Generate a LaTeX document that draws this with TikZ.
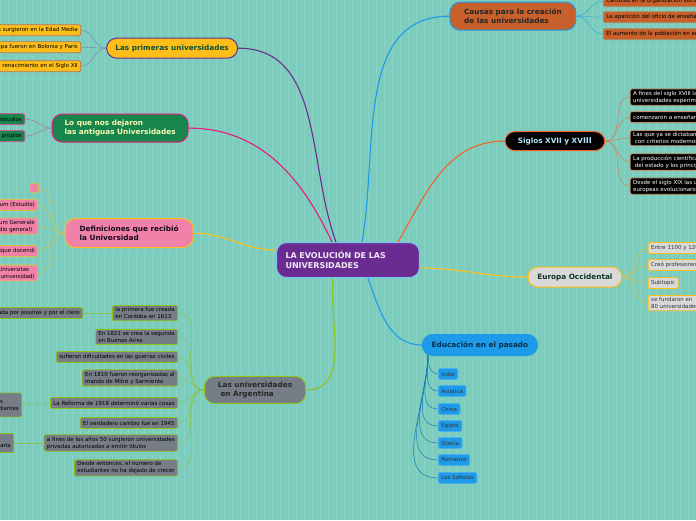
\documentclass[tikz,border=0pt]{standalone}
\usepackage{fontspec}
\setmainfont{DejaVu Sans}
\definecolor{bg}{HTML}{7DCDBE}
\definecolor{cpur}{HTML}{6A2C91}
\definecolor{cyel}{HTML}{FDBE1A}
\definecolor{cgrn}{HTML}{16864D}
\definecolor{cpink}{HTML}{F082AA}
\definecolor{cgray}{HTML}{767D86}
\definecolor{cora}{HTML}{C7602B}
\definecolor{cblue}{HTML}{1E9BE8}
\definecolor{clg}{HTML}{D9D9D9}
\definecolor{clime}{HTML}{8CC21E}
\definecolor{cmag}{HTML}{E8197A}
\definecolor{cor2}{HTML}{F0642A}
\begin{document}
\begin{tikzpicture}[x=1pt,y=-1pt,
 main/.style={rounded corners=10pt,line width=1pt,inner xsep=8pt,inner ysep=3pt,align=left,font=\fontsize{7.3}{8.8}\selectfont\bfseries},
 leaf/.style={rounded corners=2pt,line width=0.8pt,inner xsep=3pt,inner ysep=2pt,align=left,minimum height=11pt,font=\fontsize{5.5}{7}\selectfont},
 lnk/.style={line width=0.5pt},
 big/.style={line width=1.1pt}]
\fill[bg] (0,0) rectangle (696,520);
\draw[white,opacity=0.1,step=8] (0,0) grid (696,520);
\clip (0,0) rectangle (696,520);
\useasboundingbox (0,0) rectangle (696,520);

% central
\node[main,fill=cpur,draw=cblue!60,text=white!90!cpur,minimum width=143pt,minimum height=35pt,text width=125pt,font=\fontsize{8}{10}\selectfont\bfseries] (c) at (348,260) {LA EVOLUCIÓN DE LAS\\UNIVERSIDADES};

% primeras
\node[main,fill=cyel,draw=cpur,text=cgrn!60!black,minimum width=131pt,minimum height=20pt] (pr) at (172,48) {Las primeras universidades};
\node[leaf,fill=cyel,draw=cpur!50!cyel,anchor=east] (pr1) at (81,30) {Las universidades surgieron en la Edad Media};
\node[leaf,fill=cyel,draw=cpur!50!cyel,anchor=east] (pr2) at (81,47) {Las primeras de Europa fueron en Bolonia y París};
\node[leaf,fill=cyel,draw=cpur!50!cyel,anchor=east] (pr3) at (81,66) {Hubo un renacimiento en el Siglo XII};
\foreach \n in {pr1,pr2,pr3} \draw[lnk,cpur!40!bg] (pr.west) to[out=180,in=0] (\n.east);

% lo que nos dejaron
\node[main,fill=cgrn,draw=cmag,text=yellow!30!white,minimum width=136pt,minimum height=28pt] (lq) at (120,128) {Lo que nos dejaron\\las antiguas Universidades};
\node[leaf,fill=cgrn,draw=cmag!60!bg,anchor=east] (lq1) at (25,119) {Planes de estudios};
\node[leaf,fill=cgrn,draw=cmag!60!bg,anchor=east] (lq2) at (25,136) {Estatutos propios};
\foreach \n in {lq1,lq2} \draw[lnk,cmag!50!bg] (lq.west) to[out=180,in=0] (\n.east);

% definiciones
\node[main,fill=cpink,draw=cyel,text=black!80!cpur,minimum width=128pt,minimum height=29pt] (df) at (129,233) {Definiciones que recibió\\la Universidad};
\node[leaf,fill=cpink,draw=cyel!70!bg,minimum width=9pt,minimum height=9pt] (df0) at (34,188) {};
\node[leaf,fill=cpink,draw=cyel!70!bg,anchor=east] (df1) at (38,205) {Studium (Estudio)};
\node[leaf,fill=cpink,draw=cyel!70!bg,anchor=east] (df2) at (38,226) {Studium Generale\\(Estudio general)};
\node[leaf,fill=cpink,draw=cyel!70!bg,anchor=east] (df3) at (38,251) {Licentia ubique docendi};
\node[leaf,fill=cpink,draw=cyel!70!bg,anchor=east] (df4) at (38,273) {Universitas\\(universidad)};
\foreach \n in {df0,df1,df2,df3,df4} \draw[lnk,cyel!60!bg] (df.west) to[out=180,in=0] (\n.east);

% argentina
\node[main,fill=cgray,draw=clime,text=black!85,minimum width=101pt,minimum height=27pt] (ar) at (255,390) {Las universidades\\\ en Argentina};
\node[leaf,fill=cgray,draw=clime,anchor=east] (ar1) at (178,313) {la primera fue creada\\en Cordoba en 1613};
\node[leaf,fill=cgray,draw=clime,anchor=east] (ar2) at (178,337) {En 1821 se crea la segunda\\en Buenos Aires};
\node[leaf,fill=cgray,draw=clime,anchor=east] (ar3) at (178,357) {sufieron dificultades en las guerras civiles};
\node[leaf,fill=cgray,draw=clime,anchor=east] (ar4) at (178,378) {En 1810 fueron reorganizadas al\\mando de Mitre y Sarmiento};
\node[leaf,fill=cgray,draw=clime,anchor=east] (ar5) at (178,403) {La Reforma de 1918 determinó varias cosas};
\node[leaf,fill=cgray,draw=clime,anchor=east] (ar6) at (178,423) {El verdadero cambio fue en 1945};
\node[leaf,fill=cgray,draw=clime,anchor=east] (ar7) at (178,443) {a fines de los años 50 surgieron universidades\\privadas autorizadas a emitir titulos};
\node[leaf,fill=cgray,draw=clime,anchor=east] (ar8) at (178,468) {Desde entonces, el numero de\\estudiantes no ha dejado de crecer};
\foreach \n in {ar1,ar2,ar3,ar4,ar5,ar6,ar7,ar8} \draw[lnk,clime!70!bg] (ar.west) to[out=180,in=0] (\n.east);
\node[leaf,fill=cgray,draw=clime,anchor=east] (ar1a) at (83,313) {fue fundada por jesuitas y por el clero};
\node[leaf,fill=cgray,draw=clime,anchor=east,minimum height=24pt] (ar5a) at (22,405) {de los\\estudiantes};
\node[leaf,fill=cgray,draw=clime,anchor=east,minimum height=19pt] (ar7a) at (14,443) {una nueva\\ley universitaria};
\draw[lnk,clime!70!bg] (ar1.west) -- (ar1a.east);
\draw[lnk,clime!70!bg] (ar5.west) -- (ar5a.east);
\draw[lnk,clime!70!bg] (ar7.west) -- (ar7a.east);

% causas
\node[main,fill=cora,draw=cblue,text=black!85,minimum width=126pt,minimum height=28pt] (ca) at (513,16) {Causas para la creación\\de las universidades};
\node[leaf,fill=cora,draw=cora!60!bg,anchor=west] (ca1) at (603,1) {Cambios en la organización social};
\node[leaf,fill=cora,draw=cora!60!bg,anchor=west] (ca2) at (603,17) {La aparición del oficio de enseñar};
\node[leaf,fill=cora,draw=cora!60!bg,anchor=west] (ca3) at (603,34) {El aumento de la población en europa};
\foreach \n in {ca1,ca2,ca3} \draw[lnk,cblue!70!bg] (ca.east) to[out=0,in=180] (\n.west);

% siglos
\node[main,fill=black,draw=cor2,text=cyan!30!white,minimum width=100pt,minimum height=19pt] (si) at (555,141) {Siglos XVII y XV{\fontsize{8}{8}\selectfont III}};
\node[leaf,fill=black,draw=cor2!60!bg,text=white!85,anchor=west] (si1) at (630,97) {A fines del siglo XVIII las\\universidades experimentaron};
\node[leaf,fill=black,draw=cor2!60!bg,text=white!85,anchor=west] (si2) at (630,117) {comenzaron a enseñar ciencias};
\node[leaf,fill=black,draw=cor2!60!bg,text=white!85,anchor=west] (si3) at (630,138) {Las que ya se dictaban\\\ con criterios modernos};
\node[leaf,fill=black,draw=cor2!60!bg,text=white!85,anchor=west] (si4) at (630,162) {La producción científica\\\ del estado y los príncipes};
\node[leaf,fill=black,draw=cor2!60!bg,text=white!85,anchor=west] (si5) at (630,186) {Desde el siglo XIX las universidades\\europeas evolucionaron};
\foreach \n in {si1,si2,si3,si4,si5} \draw[lnk,cor2!70!bg] (si.east) to[out=0,in=180] (\n.west);

% europa
\node[main,fill=clg,draw=cyel,text=cgrn!40!black,minimum width=94pt,minimum height=20pt] (eu) at (575,277) {Europa Occidental};
\node[leaf,fill=clg,draw=cyel,text=black!80,anchor=west] (eu1) at (648,248) {Entre 1100 y 1200};
\node[leaf,fill=clg,draw=cyel,text=black!80,anchor=west] (eu2) at (648,265) {Creó profesiones};
\node[leaf,fill=clg,draw=cyel,text=black!80,anchor=west] (eu3) at (648,283) {Subtopic};
\node[leaf,fill=clg,draw=cyel,text=black!80,anchor=west] (eu4) at (648,303) {se fundaron en\\80 universidades};
\foreach \n in {eu1,eu2,eu3,eu4} \draw[lnk,cyel!70!bg] (eu.east) to[out=0,in=180] (\n.west);

% educacion
\node[main,fill=cblue,draw=cblue,text=black!70!cblue,minimum width=115pt,minimum height=21pt] (ed) at (480,345) {Educación en el pasado};
\coordinate (edA) at (428,355);
\foreach \t/\y [count=\i] in {India/374,Asiatica/391,China/409,Egipto/426,Grecia/443,Romanos/460,Los Sofistas/478}
 { \node[leaf,fill=cblue,draw=cblue!80!white,text=black!80,anchor=west] (ed\i) at (438,\y) {\t};
   \draw[lnk,cblue!80!black] (edA) to[out=-90,in=180] (ed\i.west); }

% main connectors
\draw[big,cpur] (c.north) ++(-12,0) coordinate (c1) to[out=110,in=0] (pr.east);
\draw[big,cmag] (c.north) ++(-16,0) coordinate (c2) to[out=115,in=0] (lq.east);
\draw[big,cyel] (c.west) ++(0,-10) coordinate (c3) to[out=180,in=0] (df.east);
\draw[big,clime] (c.south) ++(-15,0) coordinate (c4) to[out=-95,in=0] (ar.east);
\draw[big,cblue] (c.north) ++(14,0) coordinate (c5) to[out=80,in=180] (ca.west);
\draw[big,cor2] (c.north) ++(50,0) coordinate (c6) to[out=60,in=180] (si.west);
\draw[big,cyel] (c.east) ++(0,8) coordinate (c7) to[out=0,in=180] (eu.west);
\draw[big,cblue] (c.south) ++(20,0) coordinate (c8) to[out=-70,in=180] (ed.west);
\end{tikzpicture}
\end{document}
